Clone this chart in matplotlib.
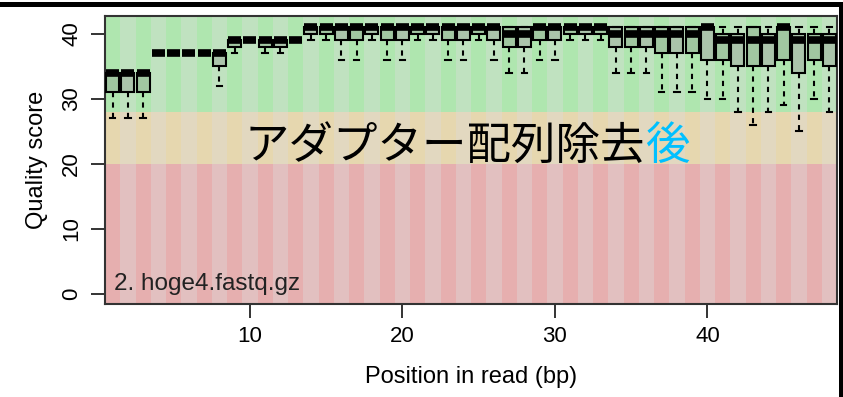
import numpy as np
import matplotlib.pyplot as plt
from matplotlib.patches import Rectangle

plt.rcParams['font.family'] = ['Liberation Sans', 'DejaVu Sans']

# per-position quality stats
positions = np.arange(1, 49)
whisk_lo = [27, 27, 27, 37, 37, 37, 37, 32, 37, 39, 37, 37, 39, 39, 39, 36,
            36, 39, 36, 36, 39, 39, 36, 36, 39, 36, 34, 34, 36, 36, 39, 39,
            39, 34, 34, 34, 31, 31, 31, 30, 30, 28, 26, 28, 29, 25, 30, 28]
q1 = [31, 31, 31, 37, 37, 37, 37, 35, 38, 39, 38, 38, 39, 40, 40, 39,
      39, 40, 39, 39, 40, 40, 39, 39, 40, 39, 38, 38, 39, 39, 40, 40,
      40, 38, 38, 38, 37, 37, 37, 36, 36, 35, 35, 35, 36, 34, 36, 35]
median = [34, 34, 34, 37, 37, 37, 37, 37, 39, 39, 39, 39, 39, 41, 41, 41,
          41, 41, 41, 41, 41, 41, 41, 41, 41, 41, 40, 40, 41, 41, 41, 41,
          41, 40, 40, 40, 40, 40, 40, 41, 39, 39, 39, 39, 41, 39, 39, 39]
q3 = [34, 34, 34, 37, 37, 37, 37, 37, 39, 39, 39, 39, 39, 41, 41, 41,
      41, 41, 41, 41, 41, 41, 41, 41, 41, 41, 41, 41, 41, 41, 41, 41,
      41, 41, 41, 41, 41, 41, 41, 41, 40, 40, 41, 40, 41, 40, 40, 40]
whisk_hi = [34, 34, 34, 37, 37, 37, 37, 37, 39, 39, 39, 39, 39, 41, 41, 41,
            41, 41, 41, 41, 41, 41, 41, 41, 41, 41, 41, 41, 41, 41, 41, 41,
            41, 41, 41, 41, 41, 41, 41, 41, 41, 41, 41, 41, 41, 41, 41, 41]

zone_edges = [-100, 20, 28, 100]
zone_colors = ['#e6afaf', '#e6d7af', '#afe6af']

sample_label = '2. hoge4.fastq.gz'
title_main = 'アダプター配列除去'
title_tail = '後'

fig = plt.figure(figsize=(8.43, 3.97), dpi=100)
ax = fig.add_axes([105/843, 1 - 304/397, 732/843, 288/397])

# background quality zones + alternating stripes
for lo, hi, c in zip(zone_edges[:-1], zone_edges[1:], zone_colors):
    ax.axhspan(lo, hi, color=c, lw=0, zorder=0)
for p in positions[1::2]:
    ax.axvspan(p - 0.5, p + 0.5, color='#dcdcdc', alpha=0.4, lw=0, zorder=1)

stats = [dict(whislo=a, q1=b, med=c, q3=d, whishi=e, fliers=[])
         for a, b, c, d, e in zip(whisk_lo, q1, median, q3, whisk_hi)]
ax.bxp(stats, positions=positions, widths=0.85, capwidths=0.35,
       patch_artist=True, showfliers=False, manage_ticks=False, zorder=3,
       boxprops=dict(facecolor=(0.55, 0.6, 0.55, 0.4), edgecolor='black', linewidth=1.5),
       medianprops=dict(color='black', linewidth=5.5, solid_capstyle='butt'),
       whiskerprops=dict(color='black', linewidth=1.5, linestyle=(0, (2.5, 2.5))),
       capprops=dict(color='black', linewidth=1.5))

ax.set_xlim(0.5, 48.5)
ax.set_ylim(-1.55, 42.75)
ax.set_xticks([10, 20, 30, 40])
ax.set_yticks([0, 10, 20, 30, 40])
ax.tick_params(axis='both', length=10, width=1.4, color='#333333', labelsize=16)
ax.tick_params(axis='x', pad=6)
ax.tick_params(axis='y', pad=14, labelrotation=90)
for lbl in ax.get_yticklabels():
    lbl.set_va('center')
    lbl.set_ha('center')
for s in ax.spines.values():
    s.set_color('#333333')
    s.set_linewidth(1.5)

ax.set_xlabel('Position in read (bp)', fontsize=17)
ax.set_ylabel('Quality score', fontsize=17)
ax.xaxis.set_label_coords(0.5, -0.215)
ax.yaxis.set_label_coords(-0.078, 0.5)

ax.text(1.1, 0.6, sample_label, fontsize=17.5, color='#222222', ha='left', va='baseline', zorder=4)

cjk = ['Noto Sans CJK JP', 'DejaVu Sans']
ax.text(35.9, 22.8, title_main, fontsize=32, family=cjk, color='black', ha='right', va='center', zorder=5)
ax.text(35.9, 22.8, title_tail, fontsize=32, family=cjk, color='#00c0ff', ha='left', va='center', zorder=5)

# screenshot frame
fig.add_artist(Rectangle((0, 390/397), 1, 5/397, transform=fig.transFigure, color='black', lw=0))
fig.add_artist(Rectangle((839/843, 0), 4/843, 395/397, transform=fig.transFigure, color='black', lw=0))

fig.savefig('out.png', dpi=100)
